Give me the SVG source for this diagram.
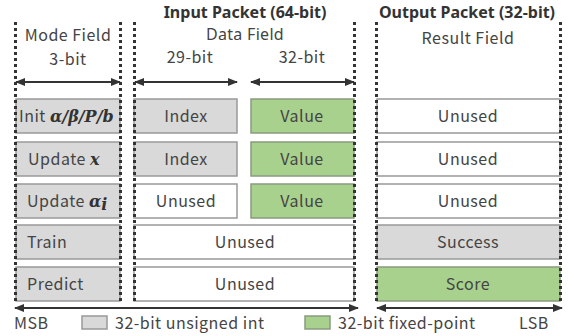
<svg xmlns="http://www.w3.org/2000/svg" width="568" height="336" viewBox="0 0 568 336">
<defs>
<marker id="ah" viewBox="0 0 10 8" refX="9" refY="4" markerWidth="10" markerHeight="8" orient="auto-start-reverse" markerUnits="userSpaceOnUse">
<path d="M0,0 L10,4 L0,8 z" fill="#333"/>
</marker>
<style>
.t{font-family:"Noto Sans CJK JP","Noto Sans",sans-serif;fill:#444;font-size:16px;letter-spacing:0.5px}
.t2{font-family:"Noto Sans",sans-serif;fill:#444;font-size:16px;letter-spacing:0.3px}
.h{font-family:"Noto Sans",sans-serif;fill:#333;font-size:16px;font-weight:bold}
.m{font-family:"DejaVu Serif",serif;font-style:italic;font-weight:bold;font-size:16px;fill:#333;letter-spacing:0}
.g{fill:#d9d9d9;stroke:#999;stroke-width:1.5}
.w{fill:#fff;stroke:#999;stroke-width:1.5}
.v{fill:#a9d18e;stroke:#8a9a80;stroke-width:1.5}
.d{stroke:#333;stroke-width:3;stroke-dasharray:3 3;fill:none}
.a{stroke:#333;stroke-width:2;fill:none;marker-start:url(#ah);marker-end:url(#ah)}
</style>
</defs>
<g id="titles">
<text class="h" x="245" y="17.5" text-anchor="middle">Input Packet (64-bit)</text>
<text class="h" x="467" y="17.5" text-anchor="middle">Output Packet (32-bit)</text>
<text class="t" x="68" y="41" text-anchor="middle">Mode Field</text>
<text class="t" x="68" y="65" text-anchor="middle">3-bit</text>
<text class="t2" x="245" y="40" text-anchor="middle">Data Field</text>
<text class="t" x="190" y="63" text-anchor="middle">29-bit</text>
<text class="t" x="302" y="63" text-anchor="middle">32-bit</text>
<text class="t" x="468" y="44" text-anchor="middle">Result Field</text>
</g>
<g id="row1">
<rect class="g" x="16" y="99" width="104" height="34"/>
<text class="t" x="19" y="122">Init <tspan class="m">α/β/P/b</tspan></text>
<rect class="g" x="134" y="99" width="103" height="34"/>
<text class="t" x="186" y="122" text-anchor="middle">Index</text>
<rect class="v" x="251" y="99" width="103" height="34"/>
<text class="t" x="302" y="122" text-anchor="middle">Value</text>
<rect class="w" x="377" y="99" width="183" height="34"/>
<text class="t" x="468" y="122" text-anchor="middle">Unused</text>
</g>
<g id="row2">
<rect class="g" x="16" y="142" width="104" height="34"/>
<text class="t" x="28" y="165">Update <tspan class="m">x</tspan></text>
<rect class="g" x="134" y="142" width="103" height="34"/>
<text class="t" x="186" y="165" text-anchor="middle">Index</text>
<rect class="v" x="251" y="142" width="103" height="34"/>
<text class="t" x="302" y="165" text-anchor="middle">Value</text>
<rect class="w" x="377" y="142" width="183" height="34"/>
<text class="t" x="468" y="165" text-anchor="middle">Unused</text>
</g>
<g id="row3">
<rect class="g" x="16" y="184" width="104" height="34"/>
<text class="t" x="27" y="207">Update <tspan class="m">α</tspan><tspan class="m" font-size="11" dy="3">i</tspan></text>
<rect class="w" x="134" y="184" width="103" height="34"/>
<text class="t" x="186" y="207" text-anchor="middle">Unused</text>
<rect class="v" x="251" y="184" width="103" height="34"/>
<text class="t" x="302" y="207" text-anchor="middle">Value</text>
<rect class="w" x="377" y="184" width="183" height="34"/>
<text class="t" x="468" y="207" text-anchor="middle">Unused</text>
</g>
<g id="row4">
<rect class="g" x="16" y="225" width="104" height="34"/>
<text class="t" x="27" y="248">Train</text>
<rect class="w" x="134" y="225" width="220" height="34"/>
<text class="t" x="245" y="248" text-anchor="middle">Unused</text>
<rect class="g" x="377" y="225" width="183" height="34"/>
<text class="t" x="468" y="248" text-anchor="middle">Success</text>
</g>
<g id="row5">
<rect class="g" x="16" y="267" width="104" height="34"/>
<text class="t" x="27" y="290">Predict</text>
<rect class="w" x="134" y="267" width="220" height="34"/>
<text class="t" x="245" y="290" text-anchor="middle">Unused</text>
<rect class="v" x="377" y="267" width="183" height="34"/>
<text class="t" x="468" y="290" text-anchor="middle">Score</text>
</g>
<g id="connectors">
<line class="d" x1="15.5" y1="22" x2="15.5" y2="301"/>
<line class="d" x1="120.5" y1="22" x2="120.5" y2="301"/>
<line class="d" x1="134.5" y1="22" x2="134.5" y2="301"/>
<line class="d" x1="354.5" y1="22" x2="354.5" y2="301"/>
<line class="d" x1="376.5" y1="22" x2="376.5" y2="301"/>
<line class="d" x1="560.5" y1="22" x2="560.5" y2="301"/>
<line class="a" x1="16" y1="82" x2="120" y2="82"/>
<line class="a" x1="135" y1="82" x2="237" y2="82"/>
<line class="a" x1="251" y1="82" x2="354" y2="82"/>
<line class="a" x1="15" y1="308" x2="358" y2="308"/>
<line class="a" x1="377" y1="308" x2="562" y2="308"/>
</g>
<g id="legend">
<text class="t" x="14" y="329">MSB</text>
<rect class="g" x="82" y="316" width="25" height="13"/>
<text class="t" x="115" y="329">32-bit unsigned int</text>
<rect class="v" x="305" y="316" width="25" height="13"/>
<text class="t" x="338" y="329">32-bit fixed-point</text>
<text class="t" x="519" y="329">LSB</text>
</g>
</svg>
